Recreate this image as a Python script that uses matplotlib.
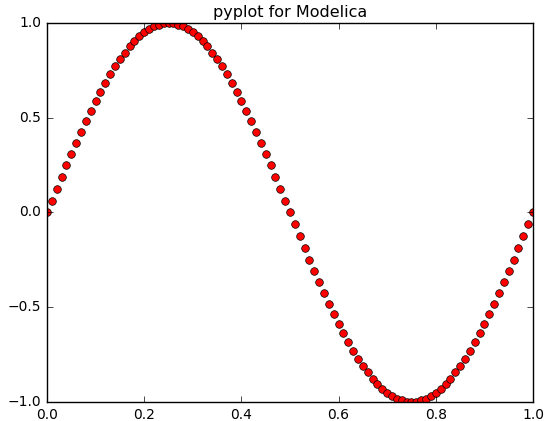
import numpy as np
import matplotlib
matplotlib.use("Agg")
import matplotlib.pyplot as plt

plt.style.use("classic")

# sample points (101 samples on [0, 1])
x = np.linspace(0.0, 1.0, 101)
y = [0.000, 0.063, 0.125, 0.187, 0.249, 0.309, 0.368, 0.426, 0.482, 0.536,
     0.588, 0.637, 0.685, 0.729, 0.771, 0.809, 0.844, 0.876, 0.905, 0.930,
     0.951, 0.969, 0.982, 0.992, 0.998, 1.000, 0.998, 0.992, 0.982, 0.969,
     0.951, 0.930, 0.905, 0.876, 0.844, 0.809, 0.771, 0.729, 0.685, 0.637,
     0.588, 0.536, 0.482, 0.426, 0.368, 0.309, 0.249, 0.187, 0.125, 0.063,
     0.000, -0.063, -0.125, -0.187, -0.249, -0.309, -0.368, -0.426, -0.482, -0.536,
     -0.588, -0.637, -0.685, -0.729, -0.771, -0.809, -0.844, -0.876, -0.905, -0.930,
     -0.951, -0.969, -0.982, -0.992, -0.998, -1.000, -0.998, -0.992, -0.982, -0.969,
     -0.951, -0.930, -0.905, -0.876, -0.844, -0.809, -0.771, -0.729, -0.685, -0.637,
     -0.588, -0.536, -0.482, -0.426, -0.368, -0.309, -0.249, -0.187, -0.125, -0.063,
     0.000]

fig = plt.figure(figsize=(5.48, 4.21), dpi=100, facecolor="white")
ax = fig.add_axes([0.0858, 0.0451, 0.8868, 0.9003])
ax.plot(x, y, "ro", markersize=5.5, markeredgecolor="black", markeredgewidth=0.5)
ax.set_xlim(0, 1)
ax.set_ylim(-1, 1)
ax.set_xticks([0.0, 0.2, 0.4, 0.6, 0.8, 1.0])
ax.set_yticks([-1.0, -0.5, 0.0, 0.5, 1.0])
ax.tick_params(labelsize=10)
ax.set_title("pyplot for Modelica", fontsize=11.5, pad=4)

fig.savefig("out.png", dpi=100, facecolor="white")
